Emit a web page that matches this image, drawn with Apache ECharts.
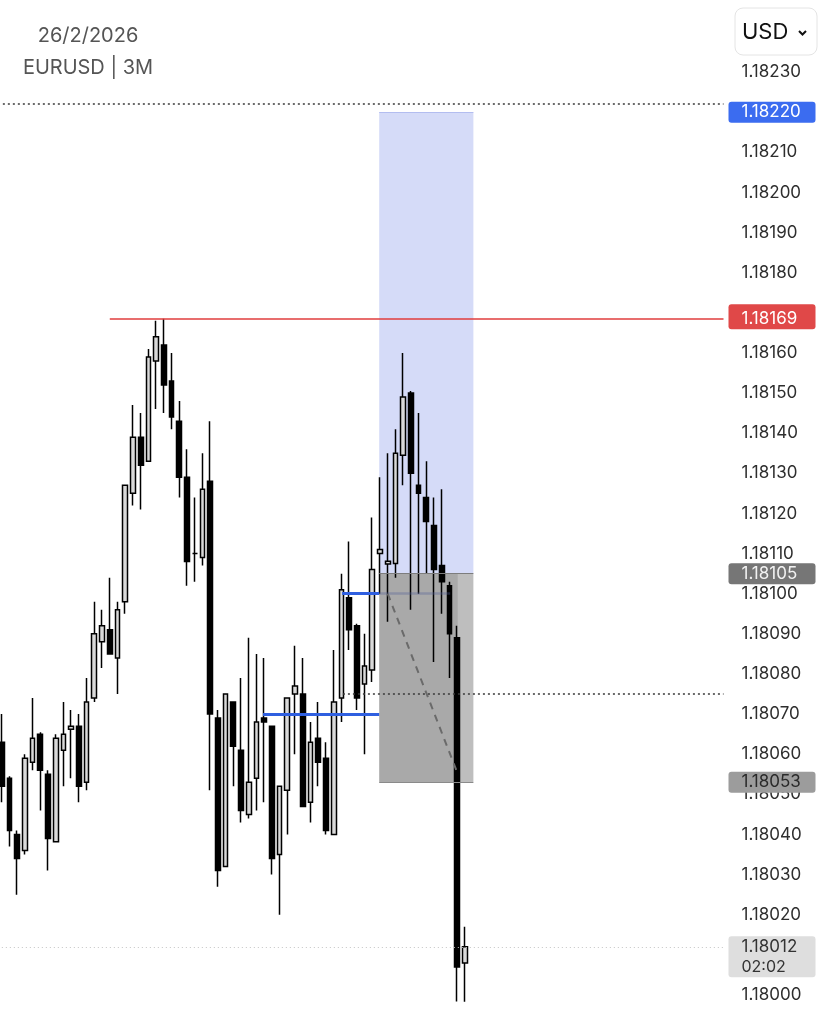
<!DOCTYPE html>
<html>
<head>
<meta charset="utf-8">
<script src="https://cdn.jsdelivr.net/npm/echarts@6/dist/echarts.min.js"></script>
<style>
html,body{margin:0;padding:0;background:#fff;}
#chart{width:826px;height:1024px;}
</style>
</head>
<body>
<div id="chart"></div>
<script>
// ---- data (EURUSD 3M candles) ----
const opens  = [1.18063,1.18054,1.18040,1.18036,1.18058,1.18065,1.18055,1.180382,1.18061,1.180662,
                1.18067,1.18053,1.18074,1.18088,1.18091,1.18084,1.18098,1.18125,1.18139,1.18133,
                1.18158,1.18162,1.18153,1.18143,1.18129,1.18110,1.18109,1.18128,1.18069,1.18032,
                1.18073,1.18061,1.18045,1.18054,1.18069,1.18067,1.18035,1.18051,1.18075,1.18075,
                1.18048,1.18064,1.18059,1.18040,1.18074,1.18099,1.18092,1.180775,1.18081,1.18110,
                1.181074,1.181075,1.181345,1.18150,1.18127,1.18124,1.18117,1.18107,1.18102,1.18089,
                1.18008];
const closes = [1.18052,1.18041,1.18034,1.18059,1.18064,1.18056,1.18039,1.18064,1.18065,1.18067,
                1.18052,1.18073,1.18090,1.18092,1.18085,1.18096,1.18127,1.18139,1.18132,1.18159,
                1.18164,1.18152,1.18144,1.18129,1.18108,1.18110,1.18126,1.18070,1.18031,1.18075,
                1.18062,1.18046,1.18053,1.18068,1.18068,1.18034,1.18052,1.18074,1.18077,1.18047,
                1.18063,1.18058,1.18041,1.18073,1.18101,1.18091,1.18074,1.18082,1.18106,1.18111,
                1.181081,1.18135,1.18149,1.18130,1.18125,1.18118,1.18106,1.18103,1.18090,1.18007,
                1.18012];
const lows   = [1.18048,1.18037,1.18025,1.18035,1.18056,1.18046,1.18031,1.18038,1.18052,1.18054,
                1.18048,1.18051,1.18073,1.180815,1.18085,1.18075,1.18095,1.18122,1.18121,1.18133,
                1.18146,1.18145,1.18141,1.18124,1.18102,1.18103,1.18107,1.18051,1.18027,1.18032,
                1.18052,1.18043,1.18044,1.18046,1.18048,1.18030,1.18020,1.18040,1.18060,1.18047,
                1.18043,1.18052,1.18040,1.18040,1.18068,1.18086,1.18071,1.18060,1.18078,1.18100,
                1.18093,1.18104,1.18127,1.18096,1.18100,1.18105,1.18083,1.18095,1.18079,1.179984,
                1.179983];
const highs  = [1.18070,1.180545,1.18041,1.18060,1.18074,1.180655,1.18056,1.18065,1.18073,1.18071,
                1.18070,1.18079,1.18098,1.18096,1.18104,1.18098,1.18127,1.18147,1.18145,1.18161,
                1.18168,1.181685,1.18160,1.18148,1.18136,1.18124,1.18135,1.18143,1.18071,1.18075,
                1.18073,1.18079,1.18089,1.18085,1.18084,1.18067,1.18052,1.18074,1.18087,1.18084,
                1.18068,1.18073,1.18063,1.18086,1.18105,1.18113,1.180925,1.18090,1.18119,1.18129,
                1.18135,1.18141,1.18160,1.181505,1.18145,1.18133,1.18124,1.18126,1.18103,1.18092,
                1.18017];
const totalSlots = 94;   // empty slots to the right of the last candle
const categories = Array.from({length: totalSlots}, (_, i) => String(i));

// axis
const yMin = 1.18000, yMax = 1.18230, yStep = 0.0001;

// annotation levels
const targetPrice = 1.18220;   // position tool target
const topDotted   = 1.18222;
const resistance  = 1.181685;  // red line (shown as 1.18169)
const entryTag    = 1.18105;
const entryLine   = 1.18100;   // upper blue line
const lowerBlue   = 1.18070;
const midDotted   = 1.18075;
const stopPrice   = 1.18053;
const lastPrice   = 1.18012;
const countdownText = '02:02';
const projEnd     = 1.18055;

// price tags on the right axis
const tagLevels = [targetPrice, resistance, entryTag, stopPrice, lastPrice];
const tagTexts  = [['1.18220'], ['1.18169'], ['1.18105'], ['1.18053'], ['1.18012', countdownText]];
const tagBg     = ['#3b6cf0', '#e04848', '#767676', '#9c9c9c', '#dedede'];
const tagFg     = ['#ffffff', '#ffffff', '#f2f2f2', '#2a2a2a', '#333333'];
const tagPadTop = [10.5, 14.5, 10.5, 10.5, 10.5];

const FONT = 'Inter, "Noto Sans", sans-serif';

const candleData = opens.map((o, i) => [o, closes[i], lows[i], highs[i]]);

function seg(x1, y1, x2, y2, style) {
  return [{coord: [x1, y1], lineStyle: style, label: {show: false}}, {coord: [x2, y2]}];
}
function helper(name, z, extra) {
  return Object.assign({name: name, type: 'line', xAxisIndex: 1, data: [], z: z, silent: true, clip: false}, extra);
}

const chart = echarts.init(document.getElementById('chart'), null, {renderer: 'canvas'});
chart.setOption({
  animation: false,
  backgroundColor: '#ffffff',
  grid: {left: -2.16, right: 102.5, top: 72, bottom: 29, containLabel: false, outerBoundsMode: 'none'},
  xAxis: [
    {type: 'category', data: categories, boundaryGap: true, show: false},
    {type: 'value', min: 0, max: totalSlots, show: false}
  ],
  yAxis: {
    type: 'value', position: 'right', min: yMin, max: yMax, interval: yStep, scale: true,
    axisLine: {show: false}, axisTick: {show: false}, splitLine: {show: false},
    axisLabel: {margin: 18, fontSize: 17, color: '#2e2e2e', fontFamily: FONT,
      formatter: v => v.toFixed(5)}
  },
  graphic: [
    {type: 'text', x: 88, y: 36, style: {text: '26/2/2026', textAlign: 'center', textVerticalAlign: 'middle',
      fontSize: 20, fill: '#555', fontFamily: FONT}},
    {type: 'text', x: 88, y: 68, style: {text: 'EURUSD | 3M', textAlign: 'center', textVerticalAlign: 'middle',
      fontSize: 20, fill: '#555', fontFamily: FONT}},
    {type: 'rect', shape: {x: 735, y: 8, width: 82, height: 47, r: 8},
      style: {fill: '#fff', stroke: '#e4e4e4', lineWidth: 1}},
    {type: 'text', x: 742, y: 32, style: {text: 'USD', textVerticalAlign: 'middle', fontSize: 22,
      fill: '#111', fontFamily: FONT}},
    {type: 'polyline', shape: {points: [[799, 31], [802.5, 34.5], [806, 31]]},
      style: {stroke: '#111', lineWidth: 2, fill: null}}
  ],
  series: [
    helper('zones', 1, {
      markArea: {
        silent: true,
        data: [
          [{coord: [49.4, entryTag], itemStyle: {color: '#d5dbf8'}}, {coord: [61.6, targetPrice]}],
          [{coord: [49.4, stopPrice], itemStyle: {color: '#a9a9a9'}}, {coord: [59.6, entryTag]}],
          [{coord: [59.6, stopPrice], itemStyle: {color: '#bebebe'}}, {coord: [61.6, entryTag]}]
        ]
      }
    }),
    helper('lines', 2, {
      markLine: {
        silent: true, symbol: ['none', 'none'], animation: false,
        data: [
          seg(0, topDotted, totalSlots, topDotted, {color: '#3a3a3a', type: [2, 3], width: 1.5}),
          seg(0, lastPrice, totalSlots, lastPrice, {color: '#c4c4c4', type: [1, 3], width: 1}),
          seg(44.7, midDotted, totalSlots, midDotted, {color: '#3a3a3a', type: [2, 3], width: 1.5}),
          seg(44.6, entryLine, 49.4, entryLine, {color: '#2f5fe0', type: 'solid', width: 3}),
          seg(34.35, lowerBlue, 49.4, lowerBlue, {color: '#2f5fe0', type: 'solid', width: 3}),
          seg(49.4, entryLine, 58.6, entryLine, {color: 'rgba(80,95,150,0.35)', type: 'solid', width: 2.5}),
          seg(49.4, targetPrice, 61.6, targetPrice, {color: '#b3bdf0', type: 'solid', width: 1}),
          seg(49.4, entryTag, 61.6, entryTag, {color: '#7d7d7d', type: 'solid', width: 1}),
          seg(49.4, stopPrice, 61.6, stopPrice, {color: '#8a8a8a', type: 'solid', width: 1}),
          seg(50.5, entryLine, 59.6, projEnd, {color: '#6a6a6a', type: [7, 6], width: 2}),
          seg(14.5, resistance, totalSlots, resistance, {color: '#e03c3c', type: 'solid', width: 1.5})
        ]
      }
    }),
    {
      name: 'tags', type: 'custom', xAxisIndex: 1, z: 6, silent: true, clip: false,
      data: tagLevels.map(v => [totalSlots, v]),
      renderItem: function (params, api) {
        const i = params.dataIndex;
        const pt = api.coord([api.value(0), api.value(1)]);
        const x = pt[0] + 5, y = pt[1];
        const lines = tagTexts[i];
        const h = 21 + (tagPadTop[i] - 10.5) + (lines.length - 1) * 20;
        const children = [{
          type: 'rect', shape: {x: x, y: y - tagPadTop[i], width: 87, height: h, r: 3},
          style: {fill: tagBg[i]}
        }];
        lines.forEach((s, k) => children.push({
          type: 'text', x: x + 13, y: y + k * 20,
          style: {text: s, fill: tagFg[i], fontSize: k ? 16 : 17, fontFamily: FONT,
                  align: 'left', verticalAlign: 'middle'}
        }));
        return {type: 'group', children: children};
      }
    },
    {
      name: 'EURUSD', type: 'candlestick', data: candleData, z: 3, clip: false,
      barWidth: 5.2,
      itemStyle: {
        color: '#d9d9d9', color0: '#000000',
        borderColor: '#000000', borderColor0: '#000000', borderColorDoji: '#000000',
        borderWidth: 1.5
      }
    }
  ]
});
</script>
</body>
</html>
